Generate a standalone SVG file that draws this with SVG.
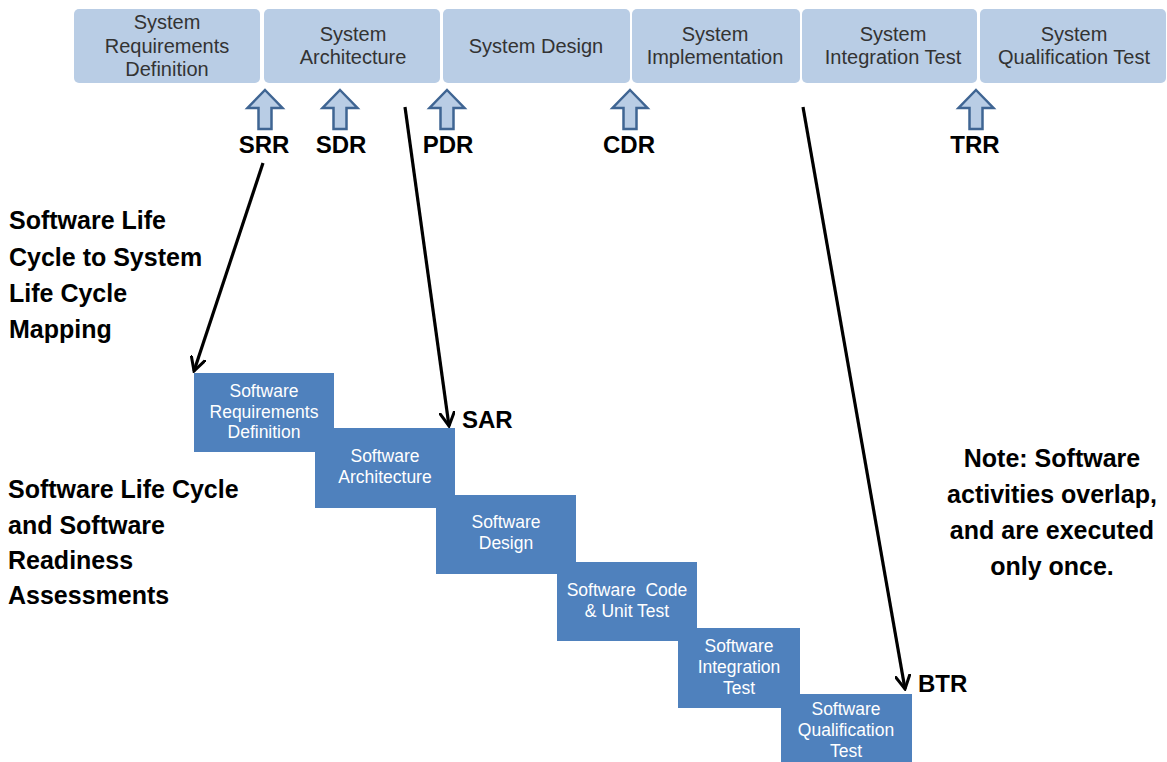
<svg xmlns="http://www.w3.org/2000/svg" width="1167" height="762" viewBox="0 0 1167 762">
  <style>
    .sys { fill: #b9cde5; }
    .sys-t { font-family: "Liberation Sans", Arial, sans-serif; font-size: 20px; fill: #333333; text-anchor: middle; }
    .sw { fill: #4f81bd; }
    .sw-t { font-family: "Liberation Sans", Arial, sans-serif; font-size: 17.5px; fill: #ffffff; text-anchor: middle; }
    .review { fill: #b9cde5; stroke: #3f6593; stroke-width: 2.5; stroke-linejoin: miter; }
    .lbl { font-family: "Liberation Sans", Arial, sans-serif; font-size: 24px; font-weight: bold; fill: #000000; }
    .cap { font-size: 25px; }
    .mid { text-anchor: middle; }
    .map { fill: none; stroke: #000000; stroke-width: 3.2; }
  </style>
  <defs>
    <marker id="openhead" viewBox="0 0 16 16" refX="14" refY="8" markerWidth="16" markerHeight="16" markerUnits="userSpaceOnUse" orient="auto">
      <path d="M1,1 L14,8 L1,15" fill="none" stroke="#000000" stroke-width="3" stroke-linecap="round" stroke-linejoin="miter"/>
    </marker>
    <path id="review-arrow" d="M0,0 L17.5,18 L6.5,18 L6.5,39 L-6.5,39 L-6.5,18 L-17.5,18 Z"/>
  </defs>

  <rect width="1167" height="762" fill="#ffffff"/>

  <!-- System life cycle phases -->
  <g id="sys-req">
    <rect class="sys" x="74" y="9" width="186" height="74" rx="5"/>
    <text class="sys-t" x="167" y="29">System</text>
    <text class="sys-t" x="167" y="52.5">Requirements</text>
    <text class="sys-t" x="167" y="76">Definition</text>
  </g>
  <g id="sys-arch">
    <rect class="sys" x="264" y="9" width="176" height="74" rx="5"/>
    <text class="sys-t" x="353" y="40.5">System</text>
    <text class="sys-t" x="353" y="64">Architecture</text>
  </g>
  <g id="sys-design">
    <rect class="sys" x="443" y="9" width="187" height="74" rx="5"/>
    <text class="sys-t" x="536" y="53">System Design</text>
  </g>
  <g id="sys-impl">
    <rect class="sys" x="632" y="9" width="168" height="74" rx="5"/>
    <text class="sys-t" x="715" y="40.5">System</text>
    <text class="sys-t" x="715" y="64">Implementation</text>
  </g>
  <g id="sys-int">
    <rect class="sys" x="802" y="9" width="175" height="74" rx="5"/>
    <text class="sys-t" x="893" y="40.5">System</text>
    <text class="sys-t" x="893" y="64">Integration Test</text>
  </g>
  <g id="sys-qual">
    <rect class="sys" x="980" y="9" width="186" height="74" rx="5"/>
    <text class="sys-t" x="1074" y="40.5">System</text>
    <text class="sys-t" x="1074" y="64">Qualification Test</text>
  </g>

  <!-- Review milestones -->
  <g id="srr">
    <use href="#review-arrow" class="review" x="265" y="90"/>
    <text class="lbl mid" x="264" y="153">SRR</text>
  </g>
  <g id="sdr">
    <use href="#review-arrow" class="review" x="340" y="90"/>
    <text class="lbl mid" x="341" y="153">SDR</text>
  </g>
  <g id="pdr">
    <use href="#review-arrow" class="review" x="447" y="90"/>
    <text class="lbl mid" x="448" y="153">PDR</text>
  </g>
  <g id="cdr">
    <use href="#review-arrow" class="review" x="630" y="90"/>
    <text class="lbl mid" x="629" y="153">CDR</text>
  </g>
  <g id="trr">
    <use href="#review-arrow" class="review" x="976" y="90"/>
    <text class="lbl mid" x="975" y="153">TRR</text>
  </g>

  <!-- Side captions -->
  <g id="caption-mapping">
    <text class="lbl cap" x="9" y="229">Software Life</text>
    <text class="lbl cap" x="9" y="265.5">Cycle to System</text>
    <text class="lbl cap" x="9" y="302">Life Cycle</text>
    <text class="lbl cap" x="9" y="338">Mapping</text>
  </g>
  <g id="caption-readiness">
    <text class="lbl cap" x="8" y="498">Software Life Cycle</text>
    <text class="lbl cap" x="8" y="533.5">and Software</text>
    <text class="lbl cap" x="8" y="569">Readiness</text>
    <text class="lbl cap" x="8" y="604">Assessments</text>
  </g>
  <g id="note">
    <text class="lbl cap mid" x="1052" y="467">Note: Software</text>
    <text class="lbl cap mid" x="1052" y="503">activities overlap,</text>
    <text class="lbl cap mid" x="1052" y="539">and are executed</text>
    <text class="lbl cap mid" x="1052" y="575">only once.</text>
  </g>

  <!-- Software life cycle activities -->
  <g id="sw-req">
    <rect class="sw" x="194" y="373" width="140" height="79"/>
    <text class="sw-t" x="264" y="397">Software</text>
    <text class="sw-t" x="264" y="417.5">Requirements</text>
    <text class="sw-t" x="264" y="438">Definition</text>
  </g>
  <g id="sw-arch">
    <rect class="sw" x="315" y="428" width="140" height="80"/>
    <text class="sw-t" x="385" y="462">Software</text>
    <text class="sw-t" x="385" y="483">Architecture</text>
  </g>
  <g id="sw-design">
    <rect class="sw" x="436" y="495" width="140" height="79"/>
    <text class="sw-t" x="506" y="528">Software</text>
    <text class="sw-t" x="506" y="549">Design</text>
  </g>
  <g id="sw-code">
    <rect class="sw" x="557" y="562" width="140" height="79"/>
    <text class="sw-t" x="627" y="596" xml:space="preserve">Software  Code</text>
    <text class="sw-t" x="627" y="617">&amp; Unit Test</text>
  </g>
  <g id="sw-int">
    <rect class="sw" x="678" y="628" width="122" height="80"/>
    <text class="sw-t" x="739" y="652">Software</text>
    <text class="sw-t" x="739" y="673">Integration</text>
    <text class="sw-t" x="739" y="694">Test</text>
  </g>
  <g id="sw-qual">
    <rect class="sw" x="781" y="694" width="131" height="68"/>
    <text class="sw-t" x="846" y="715">Software</text>
    <text class="sw-t" x="846" y="736">Qualification</text>
    <text class="sw-t" x="846" y="757">Test</text>
  </g>

  <!-- Software readiness assessments -->
  <g id="sar">
    <text class="lbl" x="462" y="428">SAR</text>
  </g>
  <g id="btr">
    <text class="lbl" x="918" y="692">BTR</text>
  </g>

  <!-- Mapping connectors -->
  <g id="connectors">
    <line class="map" x1="263" y1="163" x2="194" y2="371" marker-end="url(#openhead)"/>
    <line class="map" x1="405" y1="107" x2="449" y2="426" marker-end="url(#openhead)"/>
    <line class="map" x1="803" y1="107" x2="905" y2="689" marker-end="url(#openhead)"/>
  </g>
</svg>
